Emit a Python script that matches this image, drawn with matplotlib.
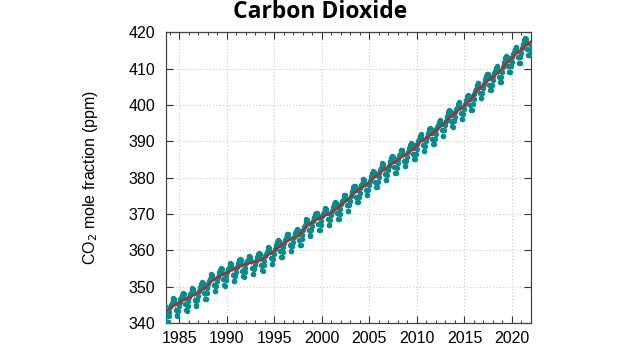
import numpy as np
import matplotlib
matplotlib.use("Agg")
import matplotlib.pyplot as plt
from matplotlib.ticker import MultipleLocator

# Monthly mean CO2 (ppm), starting June 1983
start_year = 1983
start_month = 6  # June
co2_monthly = [
    344.8, 343.7, 342.0, 340.4, 340.4, 341.8, 343.0,  # 1983 Jun-Dec
    344.3, 345.0, 345.5, 346.3, 346.8, 346.5, 345.4, 343.7, 342.1, 342.0, 343.4, 344.7,  # 1984
    345.9, 346.6, 347.0, 347.8, 348.3, 348.0, 346.9, 345.1, 343.5, 343.4, 344.8, 346.0,  # 1985
    347.2, 347.9, 348.3, 349.2, 349.6, 349.3, 348.2, 346.4, 344.9, 344.8, 346.3, 347.5,  # 1986
    348.7, 349.5, 349.9, 350.8, 351.2, 350.9, 349.9, 348.2, 346.7, 346.7, 348.2, 349.5,  # 1987
    350.8, 351.6, 352.1, 353.0, 353.5, 353.3, 352.3, 350.5, 348.9, 348.8, 350.3, 351.5,  # 1988
    352.7, 353.4, 353.9, 354.7, 355.1, 354.8, 353.8, 352.0, 350.4, 350.3, 351.7, 352.9,  # 1989
    354.1, 354.8, 355.2, 356.0, 356.4, 356.1, 355.0, 353.2, 351.6, 351.5, 352.9, 354.1,  # 1990
    355.3, 356.0, 356.4, 357.2, 357.6, 357.4, 356.2, 354.4, 352.8, 352.6, 354.0, 355.2,  # 1991
    356.4, 357.0, 357.4, 358.2, 358.5, 358.2, 357.1, 355.2, 353.6, 353.4, 354.8, 356.0,  # 1992
    357.1, 357.8, 358.1, 358.9, 359.2, 358.9, 357.8, 356.0, 354.5, 354.4, 355.9, 357.1,  # 1993
    358.4, 359.1, 359.6, 360.4, 360.8, 360.6, 359.5, 357.8, 356.3, 356.2, 357.7, 359.0,  # 1994
    360.3, 361.0, 361.5, 362.4, 362.8, 362.6, 361.5, 359.8, 358.2, 358.2, 359.6, 360.9,  # 1995
    362.1, 362.9, 363.3, 364.2, 364.6, 364.4, 363.3, 361.5, 359.9, 359.8, 361.2, 362.4,  # 1996
    363.6, 364.3, 364.7, 365.4, 365.8, 365.5, 364.5, 362.9, 361.4, 361.4, 363.0, 364.3,  # 1997
    365.7, 366.5, 367.1, 368.0, 368.6, 368.4, 367.4, 365.7, 364.1, 364.0, 365.5, 366.7,  # 1998
    368.0, 368.7, 369.1, 370.0, 370.4, 370.2, 369.1, 367.3, 365.7, 365.6, 367.0, 368.2,  # 1999
    369.4, 370.1, 370.5, 371.3, 371.7, 371.4, 370.3, 368.5, 367.0, 366.9, 368.3, 369.6,  # 2000
    370.8, 371.5, 372.0, 372.8, 373.2, 373.0, 371.9, 370.2, 368.7, 368.6, 370.1, 371.4,  # 2001
    372.7, 373.5, 373.9, 374.8, 375.3, 375.1, 374.1, 372.4, 370.9, 370.9, 372.4, 373.7,  # 2002
    375.0, 375.8, 376.3, 377.3, 377.8, 377.6, 376.6, 374.8, 373.2, 373.2, 374.6, 375.9,  # 2003
    377.1, 377.9, 378.3, 379.1, 379.6, 379.3, 378.3, 376.6, 375.1, 375.1, 376.6, 377.9,  # 2004
    379.1, 379.9, 380.4, 381.3, 381.8, 381.6, 380.6, 378.8, 377.3, 377.3, 378.8, 380.1,  # 2005
    381.3, 382.1, 382.6, 383.5, 383.9, 383.7, 382.7, 380.9, 379.4, 379.4, 380.8, 382.1,  # 2006
    383.3, 384.1, 384.6, 385.4, 385.9, 385.6, 384.6, 382.9, 381.3, 381.3, 382.7, 384.0,  # 2007
    385.2, 386.0, 386.4, 387.3, 387.7, 387.5, 386.4, 384.7, 383.1, 383.1, 384.5, 385.8,  # 2008
    387.0, 387.8, 388.2, 389.1, 389.5, 389.3, 388.2, 386.6, 385.1, 385.1, 386.6, 387.9,  # 2009
    389.2, 390.0, 390.5, 391.4, 391.9, 391.7, 390.7, 388.9, 387.4, 387.3, 388.8, 390.0,  # 2010
    391.3, 392.0, 392.4, 393.3, 393.7, 393.5, 392.4, 390.7, 389.2, 389.2, 390.7, 392.0,  # 2011
    393.3, 394.0, 394.5, 395.4, 395.9, 395.7, 394.7, 393.0, 391.5, 391.5, 393.1, 394.4,  # 2012
    395.7, 396.5, 397.1, 398.0, 398.5, 398.3, 397.3, 395.6, 394.1, 394.0, 395.5, 396.8,  # 2013
    398.1, 398.8, 399.3, 400.2, 400.7, 400.4, 399.4, 397.7, 396.2, 396.2, 397.6, 398.9,  # 2014
    400.2, 401.0, 401.5, 402.4, 402.8, 402.6, 401.7, 400.0, 398.6, 398.7, 400.3, 401.7,  # 2015
    403.1, 403.9, 404.5, 405.5, 406.1, 406.0, 405.0, 403.3, 401.8, 401.8, 403.3, 404.6,  # 2016
    405.9, 406.7, 407.2, 408.1, 408.6, 408.4, 407.3, 405.6, 404.1, 404.0, 405.5, 406.8,  # 2017
    408.0, 408.8, 409.3, 410.1, 410.6, 410.3, 409.3, 407.7, 406.2, 406.3, 407.8, 409.2,  # 2018
    410.5, 411.4, 411.9, 412.9, 413.4, 413.2, 412.3, 410.6, 409.1, 409.1, 410.6, 411.9,  # 2019
    413.3, 414.1, 414.6, 415.5, 416.0, 415.8, 414.8, 413.1, 411.6, 411.6, 413.1, 414.4,  # 2020
    415.6, 416.4, 416.9, 417.8, 418.3, 418.1, 417.0, 415.3, 413.8, 413.8, 415.2, 416.5,  # 2021
]

# Deseasonalized trend (ppm), half-year steps from 1983.5
trend_start = 1983.5
co2_trend = [
    343.15, 344.01, 344.87, 345.61, 346.35, 346.98, 347.61, 348.46, 349.31, 350.50,
    351.69, 352.45, 353.20, 353.83, 354.45, 355.08, 355.70, 356.12, 356.54, 356.88,
    357.21, 358.09, 358.96, 359.97, 360.97, 361.86, 362.74, 363.31, 363.88, 365.36,
    366.84, 367.69, 368.54, 369.13, 369.71, 370.52, 371.32, 372.39, 373.45, 374.72,
    375.98, 376.84, 377.70, 378.84, 379.98, 381.04, 382.09, 383.06, 384.02, 384.93,
    385.83, 386.74, 387.64, 388.87, 390.10, 390.98, 391.85, 392.96, 394.06, 395.40,
    396.74, 397.78, 398.81, 399.91, 401.01, 402.71, 404.41, 405.59, 406.76, 407.74,
    408.72, 410.19, 411.66, 412.95, 414.24, 415.35, 416.45, 417.51,
]

x_ticks = [1985, 1990, 1995, 2000, 2005, 2010, 2015, 2020]
y_ticks = [340, 350, 360, 370, 380, 390, 400, 410, 420]

months_idx = np.arange(len(co2_monthly))
dates = start_year + (start_month - 1 + months_idx + 0.5) / 12.0
trend_dates = trend_start + 0.5 * np.arange(len(co2_trend))

teal = "#0a8a8a"
red = "#b0282c"
sans = ["Liberation Sans", "DejaVu Sans"]

fig = plt.figure(figsize=(6.24, 3.5), dpi=100)
ax = fig.add_axes([166 / 624, 27 / 350, 365 / 624, 290.7 / 350])

ax.plot(dates, co2_monthly, color=teal, lw=0.6, ls=(0, (2, 1.5)),
        marker="o", ms=2.9, mec=teal, mfc=teal, zorder=3)
ax.plot(trend_dates, co2_trend, color=red, lw=1.5, zorder=4)

ax.set_xlim(1983.6, 2022.0)
ax.set_ylim(340, 420)
ax.set_xticks(x_ticks)
ax.set_yticks(y_ticks)
ax.xaxis.set_minor_locator(MultipleLocator(1))

ax.grid(True, which="major", color="#c8c8c8", ls=(0, (1, 2)), lw=0.8)
ax.set_axisbelow(True)

ax.tick_params(axis="both", which="major", direction="in", length=5, width=0.8,
               top=True, right=True, colors="#333333", labelcolor="black", pad=8)
ax.tick_params(axis="x", which="major", pad=6)
ax.tick_params(axis="x", which="minor", direction="in", length=2.5, width=0.7,
               top=True, bottom=True, colors="#333333")
for lab in ax.get_xticklabels() + ax.get_yticklabels():
    lab.set_fontfamily(sans)
    lab.set_fontsize(11.5)

for sp in ax.spines.values():
    sp.set_color("#444444")
    sp.set_linewidth(0.9)

ax.set_ylabel("CO$_2$ mole fraction (ppm)", fontfamily=sans, fontsize=11.5, labelpad=20)

fig.text(320 / 624, 1 - 12 / 350, "Carbon Dioxide", ha="center", va="center",
         fontfamily=["Open Sans", "DejaVu Sans"], fontweight="bold", fontsize=16.5)

fig.savefig("out.png", dpi=100)
